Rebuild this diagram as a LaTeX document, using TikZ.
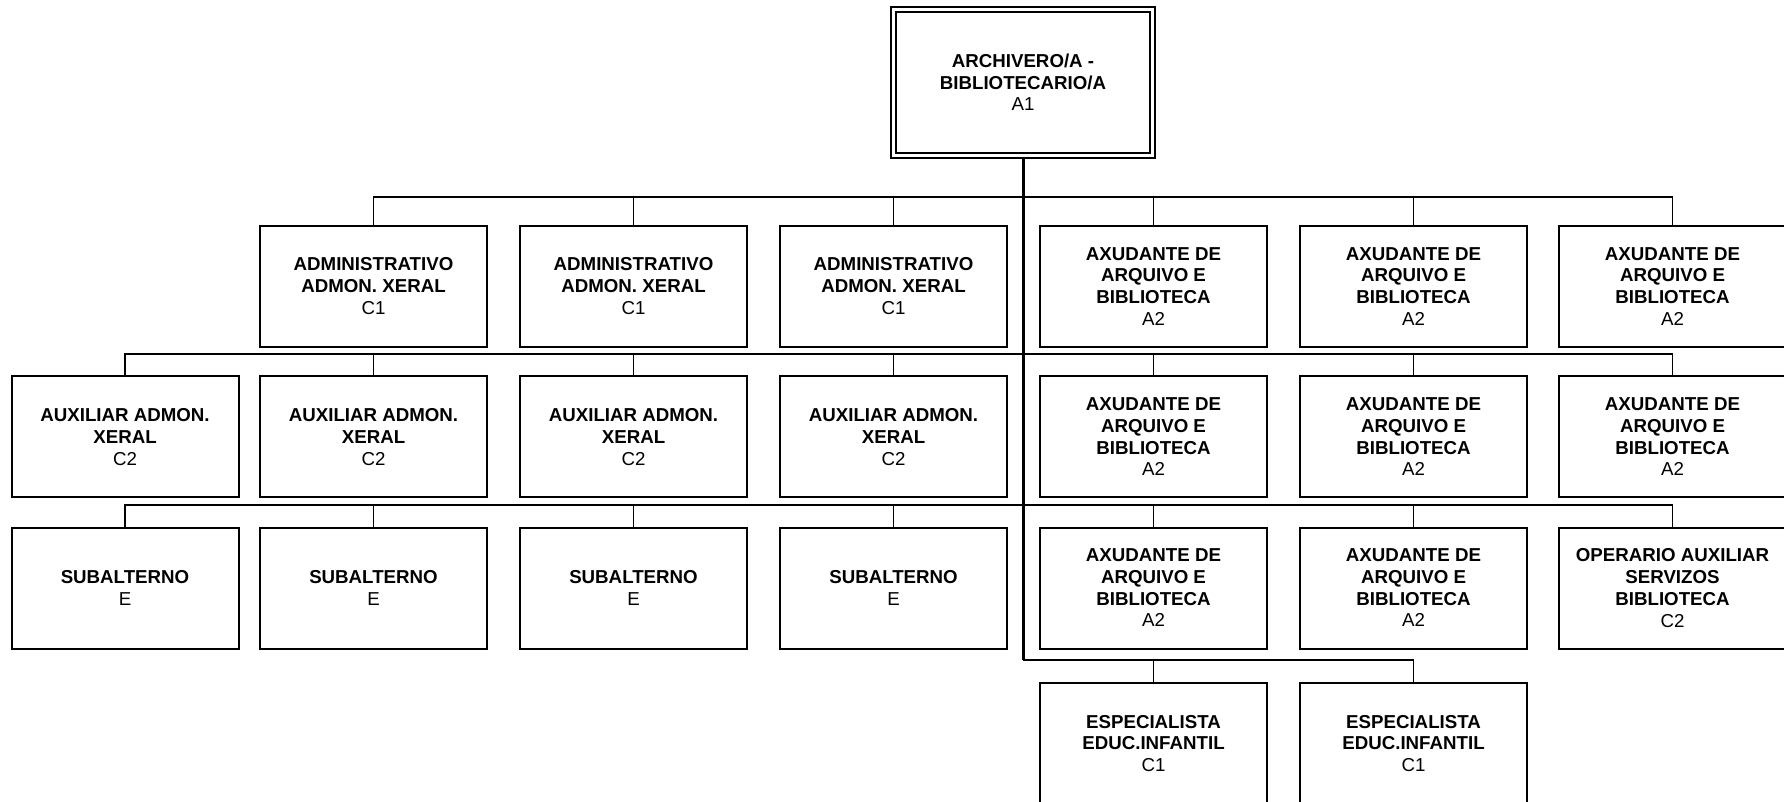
\documentclass[tikz,border=0pt]{standalone}
\usepackage{fontspec}
\setmainfont{Liberation Sans}
\begin{document}
\begin{tikzpicture}[x=1pt,y=-1pt,
  box/.style={draw,line width=2pt,minimum width=227pt,minimum height=121pt,inner sep=0pt,align=center,
    font=\fontsize{18.7pt}{21.7pt}\selectfont},
  topbox/.style={draw,line width=2pt,double,double distance=3pt,minimum width=259.6pt,minimum height=146.6pt,
    inner sep=0pt,align=center,font=\fontsize{18.7pt}{21.7pt}\selectfont},
  conn/.style={line width=1.6pt},
  trunk/.style={line width=3pt}]
\useasboundingbox (0,0) rectangle (1784,801);
\clip (0,0) rectangle (1784,801);
\fill[white] (0,0) rectangle (1784,801);
\newcommand{\adm}{\textbf{ADMINISTRATIVO}\\\textbf{ADMON. XERAL}\\C1}
\newcommand{\axu}{\textbf{AXUDANTE DE}\\\textbf{ARQUIVO E}\\\textbf{BIBLIOTECA}\\A2}
\newcommand{\aux}{\textbf{AUXILIAR ADMON.}\\\textbf{XERAL}\\C2}
\newcommand{\sub}{\textbf{SUBALTERNO}\\E}
\newcommand{\esp}{\textbf{ESPECIALISTA}\\\textbf{EDUC.INFANTIL}\\C1}
% top
\node[topbox] (top) at (1023,82.5) {\textbf{ARCHIVERO/A -}\\\textbf{BIBLIOTECARIO/A}\\A1};
% bus levels
\coordinate (b1) at (0,197);
\coordinate (b2) at (0,354);
\coordinate (b3) at (0,505);
\coordinate (b4) at (0,660);
% row 1
\node[box] (r1c2) at (373.5,286.2) {\adm};
\node[box] (r1c3) at (633.5,286.2) {\adm};
\node[box] (r1c4) at (893.5,286.2) {\adm};
\node[box] (r1c5) at (1153.5,286.2) {\axu};
\node[box] (r1c6) at (1413.5,286.2) {\axu};
\node[box] (r1c7) at (1672.5,286.2) {\axu};
% row 2
\node[box] (r2c1) at (125,436.9) {\aux};
\node[box] (r2c2) at (373.5,436.9) {\aux};
\node[box] (r2c3) at (633.5,436.9) {\aux};
\node[box] (r2c4) at (893.5,436.9) {\aux};
\node[box] (r2c5) at (1153.5,436.9) {\axu};
\node[box] (r2c6) at (1413.5,436.9) {\axu};
\node[box] (r2c7) at (1672.5,436.9) {\axu};
% row 3
\node[box] (r3c1) at (125,588) {\sub};
\node[box] (r3c2) at (373.5,588) {\sub};
\node[box] (r3c3) at (633.5,588) {\sub};
\node[box] (r3c4) at (893.5,588) {\sub};
\node[box] (r3c5) at (1153.5,588) {\axu};
\node[box] (r3c6) at (1413.5,588) {\axu};
\node[box] (r3c7) at (1672.5,588) {\textbf{OPERARIO AUXILIAR}\\\textbf{SERVIZOS}\\\textbf{BIBLIOTECA}\\C2};
% row 4
\node[box] (r4c5) at (1153.5,743.5) {\esp};
\node[box] (r4c6) at (1413.5,743.5) {\esp};
% connectors row 1
\draw[conn] (r1c2.north) -- (r1c2.north |- b1) -- (r1c7.north |- b1) -- (r1c7.north);
\foreach \n in {r1c3,r1c4,r1c5,r1c6} \draw[conn] (\n.north) -- (\n.north |- b1);
% connectors row 2
\draw[conn] (r2c1.north) -- (r2c1.north |- b2) -- (r2c7.north |- b2) -- (r2c7.north);
\foreach \n in {r2c2,r2c3,r2c4,r2c5,r2c6} \draw[conn] (\n.north) -- (\n.north |- b2);
% connectors row 3
\draw[conn] (r3c1.north) -- (r3c1.north |- b3) -- (r3c7.north |- b3) -- (r3c7.north);
\foreach \n in {r3c2,r3c3,r3c4,r3c5,r3c6} \draw[conn] (\n.north) -- (\n.north |- b3);
% connectors row 4
\draw[conn] (top.south |- b4) -- (r4c6.north |- b4) -- (r4c6.north);
\draw[conn] (r4c5.north) -- (r4c5.north |- b4);
% trunk
\draw[trunk] (top.south) -- (top.south |- b4);
\end{tikzpicture}
\end{document}
